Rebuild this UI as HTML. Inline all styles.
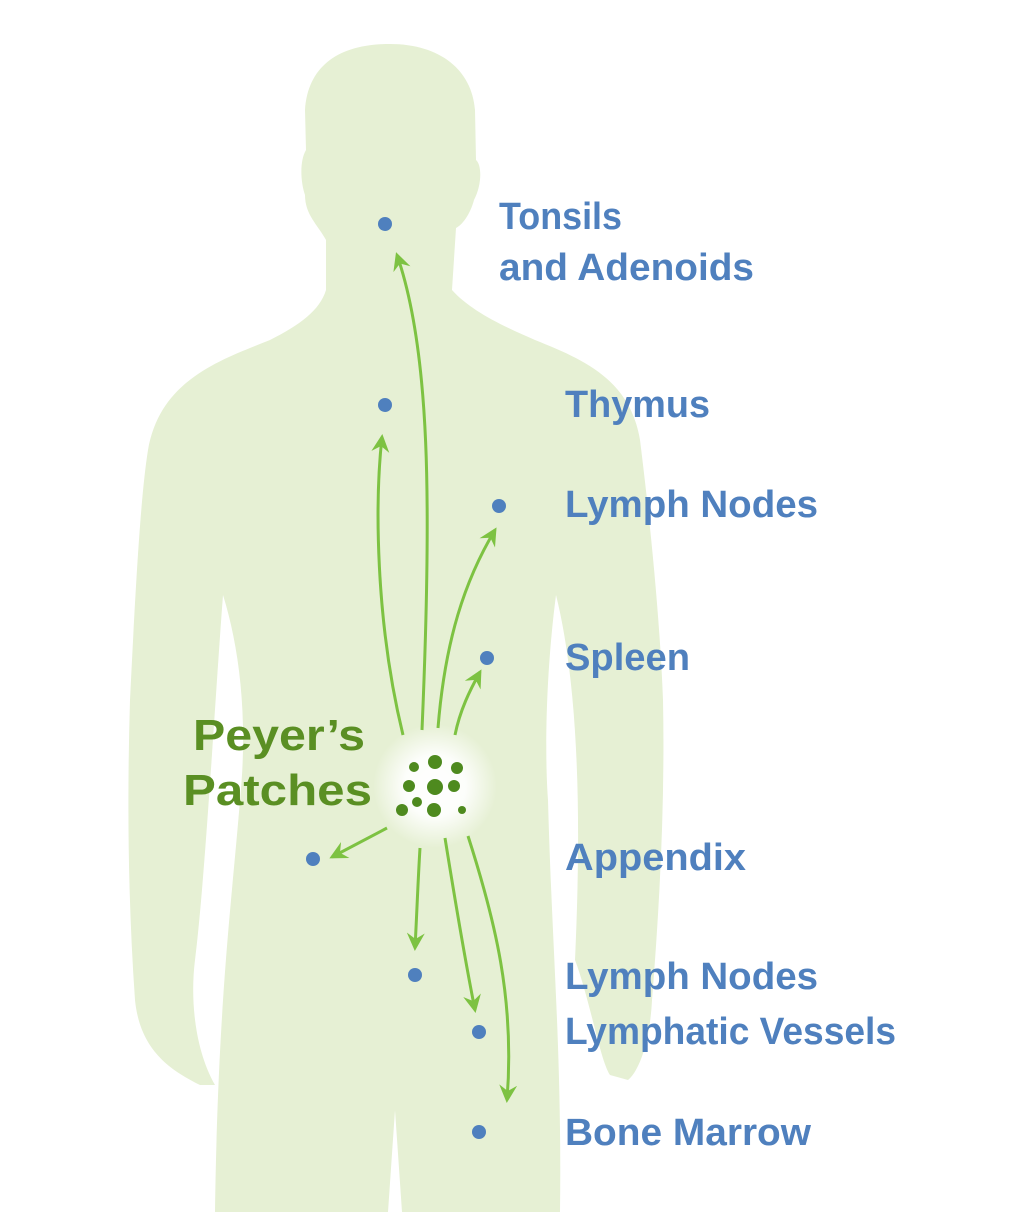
<!DOCTYPE html>
<html><head><meta charset="utf-8"><style>
html,body{margin:0;padding:0;background:#fff}
svg{display:block}
text{font-family:"Liberation Sans",sans-serif;font-weight:bold}
</style></head><body>
<svg width="1024" height="1212" viewBox="0 0 1024 1212" xmlns="http://www.w3.org/2000/svg">
<defs>
<radialGradient id="g" cx="0.5" cy="0.5" r="0.5">
<stop offset="0" stop-color="#fff" stop-opacity="1"/>
<stop offset="0.5" stop-color="#fff" stop-opacity="0.9"/>
<stop offset="1" stop-color="#fff" stop-opacity="0"/>
</radialGradient>
<marker id="a" viewBox="0 0 12 12" refX="10" refY="6" markerWidth="6" markerHeight="6" orient="auto" markerUnits="strokeWidth">
<path d="M0,0 L12,6 L0,12 L4,6 Z" fill="#7dc242"/>
</marker>
</defs>
<path fill="#e6f0d4" d="M 390 44 C 440 44 472 70 475 110 L 476 160 C 482 165 482 185 474 200 C 470 215 462 225 456 228 L 452 290 C 470 310 500 325 535 340 C 585 360 630 380 640 440 C 650 520 660 620 663 700 C 665 800 660 900 652 1000 C 650 1040 640 1070 628 1080 L 610 1075 C 600 1060 590 1000 575 960 C 580 850 582 700 556 595 C 545 680 545 760 548 800 C 552 950 562 1050 560 1212 L 402 1212 L 395 1110 L 388 1212 L 215 1212 C 218 1000 232 900 240 800 C 248 720 240 650 223 595 C 215 700 205 880 195 960 C 190 1000 195 1050 215 1085 L 200 1085 C 170 1070 140 1050 135 1000 C 128 900 127 800 130 700 C 135 600 140 500 148 450 C 160 380 220 360 270 340 C 300 325 320 310 326 290 L 326 240 C 318 225 305 215 305 195 C 300 180 300 160 306 150 L 305 110 C 308 65 340 44 390 44 Z"/>
<circle cx="435" cy="786" r="62" fill="url(#g)"/>
<g fill="none" stroke="#7dc242" stroke-width="3" marker-end="url(#a)">
<path d="M 422 730 C 432 500 430 350 397 255"/>
<path d="M 403 735 C 375 620 375 500 382 437"/>
<path d="M 438 728 C 445 640 465 580 495 530"/>
<path d="M 455 735 C 460 710 470 690 480 672"/>
<path d="M 387 828 L 332 857"/>
<path d="M 420 848 C 418 880 417 910 415 948"/>
<path d="M 445 838 C 455 900 465 960 475 1010"/>
<path d="M 468 836 C 495 920 515 1000 507 1100"/>
</g>
<g fill="#4e8a1e">
<circle cx="435" cy="762" r="7"/><circle cx="414" cy="767" r="5"/><circle cx="457" cy="768" r="6"/>
<circle cx="409" cy="786" r="6"/><circle cx="435" cy="787" r="8"/><circle cx="454" cy="786" r="6"/>
<circle cx="417" cy="802" r="5"/><circle cx="402" cy="810" r="6"/><circle cx="434" cy="810" r="7"/><circle cx="462" cy="810" r="4"/>
</g>
<g fill="#4f80be">
<circle cx="385" cy="224" r="7"/><circle cx="385" cy="405" r="7"/><circle cx="499" cy="506" r="7"/>
<circle cx="487" cy="658" r="7"/><circle cx="313" cy="859" r="7"/><circle cx="415" cy="975" r="7"/>
<circle cx="479" cy="1032" r="7"/><circle cx="479" cy="1132" r="7"/>
</g>
<g fill="#5a8f23" font-size="44">
<text x="193" y="750" textLength="172" lengthAdjust="spacingAndGlyphs">Peyer’s</text>
<text x="183" y="805" textLength="189" lengthAdjust="spacingAndGlyphs">Patches</text>
</g>
<g fill="#4f80be" font-size="38">
<text x="499" y="229" textLength="123" lengthAdjust="spacingAndGlyphs">Tonsils</text>
<text x="499" y="280" textLength="255" lengthAdjust="spacingAndGlyphs">and Adenoids</text>
<text x="565" y="417" textLength="145" lengthAdjust="spacingAndGlyphs">Thymus</text>
<text x="565" y="517" textLength="253" lengthAdjust="spacingAndGlyphs">Lymph Nodes</text>
<text x="565" y="670" textLength="125" lengthAdjust="spacingAndGlyphs">Spleen</text>
<text x="565" y="870" textLength="181" lengthAdjust="spacingAndGlyphs">Appendix</text>
<text x="565" y="989" textLength="253" lengthAdjust="spacingAndGlyphs">Lymph Nodes</text>
<text x="565" y="1044" textLength="331" lengthAdjust="spacingAndGlyphs">Lymphatic Vessels</text>
<text x="565" y="1145" textLength="246" lengthAdjust="spacingAndGlyphs">Bone Marrow</text>
</g>
</svg>
</body></html>
